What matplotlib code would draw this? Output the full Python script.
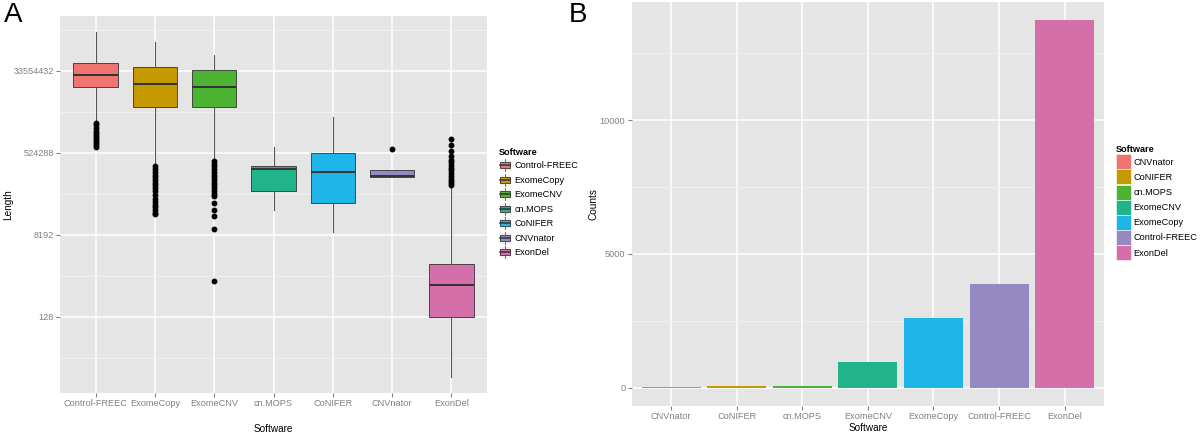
"""
Two-panel figure: CNV length distribution per tool (A) and CNV counts per tool (B).
"""
import numpy as np
import matplotlib
matplotlib.use("Agg")
import matplotlib.pyplot as plt
from matplotlib.patches import Rectangle, Patch
from matplotlib.lines import Line2D
from matplotlib.legend_handler import HandlerBase

plt.rcParams['font.family'] = ['Liberation Sans', 'DejaVu Sans']

# ---- Panel A data (lengths as log2 values) ----
tools_a = ['Control-FREEC', 'ExomeCopy', 'ExomeCNV', 'cn.MOPS', 'CoNIFER', 'CNVnator', 'ExonDel']
colors_a = ['#F07470', '#C49A00', '#4CB333', '#21B38A', '#1FB5E8', '#9489C2', '#D46FA9']
whis_lo = [21.3, 18.1, 18.5, 14.8, 13.2, 17.22, 2.6]
q1 = [23.78, 22.35, 22.35, 16.17, 15.3, 17.22, 7.0]
median = [24.7, 24.0, 23.8, 17.8, 17.59, 17.28, 9.3]
q3 = [25.56, 25.3, 25.05, 18.05, 19.0, 17.74, 10.88]
whis_hi = [27.8, 27.07, 26.17, 19.4, 21.6, 17.74, 16.5]
outliers = [
    [21.2, 21.0, 20.8, 20.6, 20.45, 20.3, 20.15, 20.0, 19.85, 19.7, 19.55, 19.4],
    [18.0, 17.8, 17.6, 17.4, 17.2, 17.0, 16.8, 16.6, 16.4, 16.2, 15.9, 15.6,
     15.4, 15.2, 15.0, 14.8, 14.6, 14.5],
    [18.4, 18.2, 18.0, 17.8, 17.6, 17.4, 17.2, 17.0, 16.8, 16.6, 16.4, 16.2,
     16.0, 15.8, 15.34, 14.83, 14.39, 13.44, 9.64],
    [],
    [],
    [19.24],
    [20.0, 19.53, 19.1, 18.73, 18.5, 18.3, 18.1, 17.9, 17.7, 17.5, 17.3, 17.1,
     16.9, 16.75, 16.6],
]
ytick_a = [128, 8192, 524288, 33554432]

# ---- Panel B data ----
tools_b = ['CNVnator', 'CoNIFER', 'cn.MOPS', 'ExomeCNV', 'ExomeCopy', 'Control-FREEC', 'ExonDel']
counts_b = [10, 45, 50, 972, 2618, 3878, 13728]
colors_b = ['#F07470', '#C49A00', '#4CB333', '#21B38A', '#1FB5E8', '#9489C2', '#D46FA9']

PANEL_BG = '#E5E5E5'
TICK_COL = '#808080'


class BoxKeyHandler(HandlerBase):
    """Legend key drawn as a small boxplot glyph, like ggplot."""
    def create_artists(self, legend, orig_handle, xdescent, ydescent,
                       width, height, fontsize, trans):
        x0, y0 = -xdescent, -ydescent
        cx = x0 + width / 2
        bg = Rectangle((x0, y0), width, height, facecolor='#F2F2F2',
                       edgecolor='white', lw=0.5, transform=trans)
        box = Rectangle((x0 + width * 0.1, y0 + height * 0.25), width * 0.8, height * 0.5,
                        facecolor=orig_handle.get_facecolor(), edgecolor='#333333',
                        lw=0.6, transform=trans)
        med = Line2D([x0 + width * 0.1, x0 + width * 0.9], [y0 + height / 2] * 2,
                     color='#333333', lw=1.1, transform=trans)
        w1 = Line2D([cx, cx], [y0, y0 + height * 0.25], color='#555555', lw=0.6, transform=trans)
        w2 = Line2D([cx, cx], [y0 + height * 0.75, y0 + height], color='#555555', lw=0.6, transform=trans)
        return [bg, box, med, w1, w2]


def style_axes(ax):
    ax.set_facecolor(PANEL_BG)
    for s in ax.spines.values():
        s.set_visible(False)
    ax.grid(True, which='major', color='white', lw=1.1)
    ax.grid(True, which='minor', axis='y', color='#F2F2F2', lw=0.6)
    ax.set_axisbelow(True)
    ax.tick_params(which='major', length=3, width=0.8, color=TICK_COL,
                   labelcolor=TICK_COL, labelsize=6.6, pad=1.5)
    ax.tick_params(which='minor', length=0)


fig = plt.figure(figsize=(12, 4.34), dpi=100)

# ---------------- Panel A ----------------
axA = fig.add_axes([60 / 1200, 41 / 434, 427 / 1200, 377 / 434])
style_axes(axA)
stats = []
for i in range(len(tools_a)):
    stats.append(dict(med=2 ** median[i], q1=2 ** q1[i], q3=2 ** q3[i],
                      whislo=2 ** whis_lo[i], whishi=2 ** whis_hi[i],
                      fliers=2 ** np.array(outliers[i], dtype=float)))
pos = np.arange(len(tools_a))
bp = axA.bxp(stats, positions=pos, widths=0.75, patch_artist=True, showcaps=False,
             boxprops=dict(edgecolor='#333333', lw=0.6),
             medianprops=dict(color='#333333', lw=1.4),
             whiskerprops=dict(color='#555555', lw=0.8),
             flierprops=dict(marker='o', markerfacecolor='black', markeredgecolor='black',
                             markersize=3.2, linestyle='none'))
for patch, c in zip(bp['boxes'], colors_a):
    patch.set_facecolor(c)
axA.set_yscale('log', base=2)
axA.set_ylim(2 ** 1.42, 2 ** 29.0)
axA.set_yticks(ytick_a)
axA.set_yticklabels([str(v) for v in ytick_a])
axA.set_yticks([2 ** 4, 2 ** 10, 2 ** 16, 2 ** 22, 2 ** 28], minor=True)
axA.yaxis.set_minor_formatter(matplotlib.ticker.NullFormatter())
axA.set_xlim(-0.6, len(tools_a) - 0.4)
axA.set_xticks(pos)
axA.set_xticklabels(tools_a)
axA.set_xlabel('Software', fontsize=7.2, labelpad=11)
axA.set_ylabel('Length', fontsize=7.2)
axA.yaxis.set_label_coords(-0.11, 0.5)

handles_a = [Patch(facecolor=c) for c in colors_a]
legA = fig.legend(handles_a, tools_a, title='Software', loc='upper left',
                  bbox_to_anchor=(499 / 1200, 1 - 148 / 434), frameon=False,
                  fontsize=6.6, title_fontproperties={'weight': 'bold', 'size': 6.6},
                  handler_map={Patch: BoxKeyHandler()}, handlelength=1.31,
                  handleheight=1.64, labelspacing=0.27, handletextpad=0.35,
                  borderpad=0, borderaxespad=0, alignment='left')

# ---------------- Panel B ----------------
axB = fig.add_axes([631.7 / 1200, 28 / 434, 472.3 / 1200, 404 / 434])
style_axes(axB)
posb = np.arange(len(tools_b))
axB.bar(posb, counts_b, width=0.9, color=colors_b, zorder=2)
axB.set_xlim(-0.6, len(tools_b) - 0.4)
ymax = max(counts_b)
axB.set_ylim(-0.05 * ymax, 1.05 * ymax)
axB.set_yticks([0, 5000, 10000])
axB.set_yticklabels(['0', '5000', '10000'])
axB.set_yticks([2500, 7500, 12500], minor=True)
axB.set_xticks(posb)
axB.set_xticklabels(tools_b)
axB.set_xlabel('Software', fontsize=7.2, labelpad=1)
axB.set_ylabel('Counts', fontsize=7.2)
axB.yaxis.set_label_coords(-0.071, 0.5)

handles_b = [Patch(facecolor=c, edgecolor='white', lw=0.4) for c in colors_b]
legB = fig.legend(handles_b, tools_b, title='Software', loc='upper left',
                  bbox_to_anchor=(1116 / 1200, 1 - 145 / 434), frameon=False,
                  fontsize=6.6, title_fontproperties={'weight': 'bold', 'size': 6.6},
                  handlelength=1.64, handleheight=2.14, labelspacing=0.02,
                  handletextpad=0.25, borderpad=0, borderaxespad=0, alignment='left')

# panel letters
fig.text(4 / 1200, 1 - 2 / 434, 'A', fontsize=20, va='top', ha='left')
fig.text(569 / 1200, 1 - 2 / 434, 'B', fontsize=20, va='top', ha='left')

fig.savefig('out.png', dpi=100)
